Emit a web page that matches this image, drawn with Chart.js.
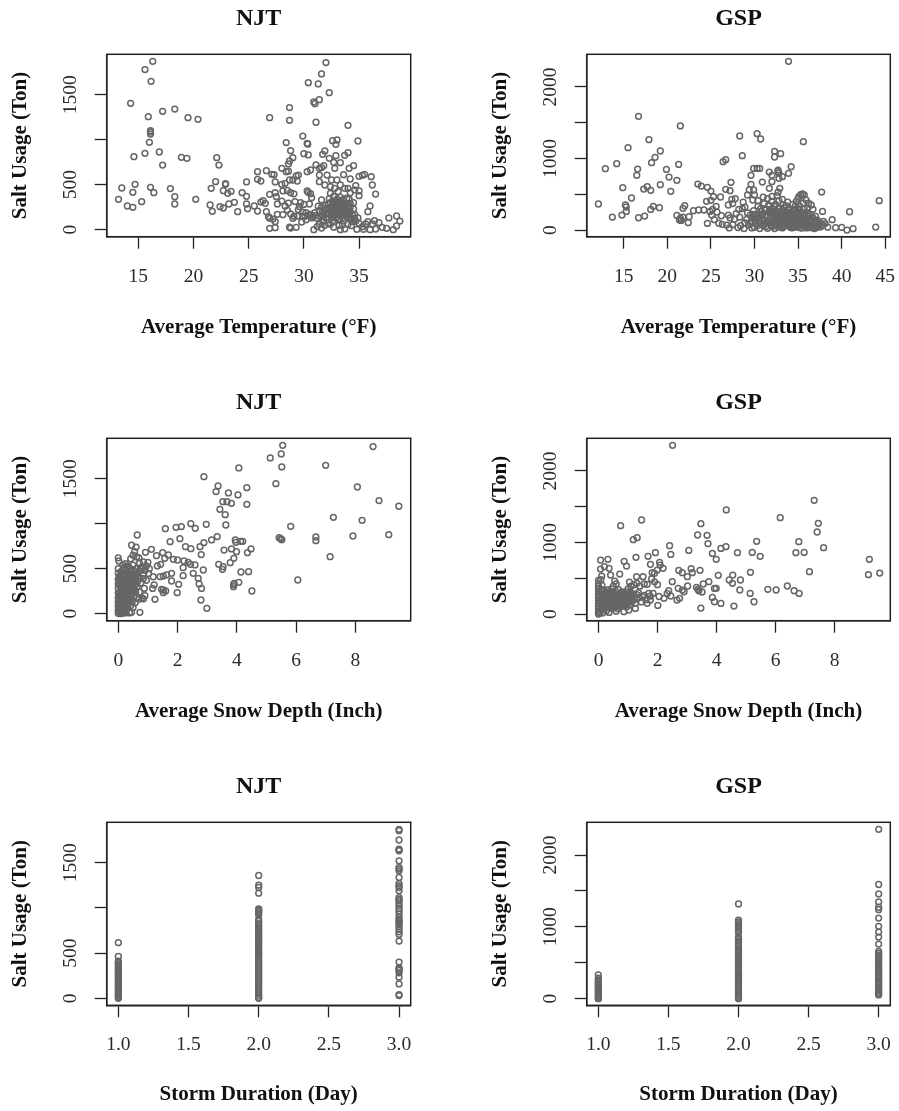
<!DOCTYPE html>
<html><head><meta charset="utf-8">
<style>html,body{margin:0;padding:0;background:#fff;width:899px;height:1111px;overflow:hidden}canvas{position:absolute}</style>
<script src="https://cdn.jsdelivr.net/npm/chart.js@4"></script>
</head><body>
<script>
const njtTempPoints=[[16.3,1870],[15.6,1778],[16.15,1648],[14.3,1404],[17.2,1315],[18.3,1340],[15.9,1255],[19.5,1244],[20.4,1226],[16.1,1100],[16.1,1085],[16.1,1063],[16,970],[15.6,848],[14.6,811],[16.9,863],[17.2,718],[18.9,804],[19.4,793],[22.1,800],[22.3,718],[13.2,337],[13.5,463],[14,263],[14.5,248],[14.5,415],[14.7,504],[15.3,311],[16.1,470],[16.4,411],[17.9,456],[18.3,367],[18.3,285],[20.2,337],[21.5,274],[21.7,204],[21.6,459],[22,533],[22.4,255],[22.7,241],[22.9,511],[22.9,504],[22.7,433],[23.1,404],[23.4,426],[23.2,285],[23.7,304],[24,200],[24.4,411],[24.8,370],[24.8,530],[24.8,285],[24.9,233],[25.5,263],[25.8,644],[25.8,559],[26.1,540],[25.8,207],[26.1,307],[26.3,322],[26.5,293],[26.6,655],[26.9,1244],[26.6,200],[26.8,144],[26.9,126],[26.9,15],[27.4,22],[27.4,89],[27.2,118],[27.1,615],[27.3,611],[27.4,530],[26.9,393],[27.4,411],[27.5,367],[27.6,170],[27.6,285],[28,681],[28.4,644],[28.6,650],[28.4,967],[28.7,1356],[28.7,1215],[28.8,878],[29,800],[28.7,763],[28.6,730],[29.3,596],[29.5,607],[29,552],[28.7,552],[28.3,515],[28,504],[29.4,540],[29.9,1040],[30.3,959],[30.35,950],[30,844],[30.4,830],[30.4,1633],[31.3,1619],[31.6,1730],[32,1856],[32.3,1522],[31.4,1444],[30.9,1419],[31,1400],[31.1,1193],[34,1159],[34.9,985],[32.6,989],[33,996],[32.9,948],[31.9,874],[31.7,837],[32.3,793],[32.9,822],[32.7,748],[32.8,681],[33.3,744],[33.7,826],[34,855],[34.1,681],[34.5,711],[33.6,611],[34.2,563],[35,593],[35.3,604],[35.5,615],[36.1,589],[36.2,496],[36.5,396],[36,263],[35.8,200],[34.7,489],[34.6,441],[35,430],[35,378],[34.2,410],[33.7,459],[31.1,719],[30.3,644],[30.6,663],[31.4,681],[31.8,711],[31.6,690],[31.4,607],[32.1,607],[31.4,533],[31.9,496],[32.5,552],[33,552],[33.3,496],[32.4,478],[32.8,459],[34,459],[33.1,422],[32.4,404],[32.7,370],[38.4,152],[37.7,130],[38.7,96],[38.4,41],[38.1,0],[37.5,15],[37.1,26],[36.5,7],[36.4,100],[36.8,78],[36,0],[35.8,89],[35.4,4],[34.8,4],[36.2,63],[35.3,33],[35.6,63],[28.1,430],[28.5,435],[28.8,410],[29.1,398],[29.2,312],[28.6,296],[28,318],[28.3,262],[28.5,218],[28.1,167],[28.8,174],[29,126],[29.1,150],[28.7,28],[28.8,18],[29.3,26],[29.5,222],[29.7,300],[30,280],[29.9,195],[30.1,148],[30.2,110],[29.8,84],[30.3,430],[30.4,415],[30.6,400],[30.7,356],[30.5,285],[30.4,160],[30.8,145],[30.9,0],[31.2,35],[31.4,62],[31.2,128],[31.3,260],[31.6,330],[31.7,160],[31.8,110],[31.9,48],[31.6,18],[32.1,230],[32.2,175],[32.2,72],[32.4,300],[32.5,255],[32.5,135],[32.6,90],[32.7,28],[32.8,210],[32.9,318],[33,265],[33,170],[33.1,110],[33.2,48],[33.3,0],[33.3,360],[33.4,235],[33.5,170],[33.6,95],[33.7,8],[33.7,296],[33.8,222],[33.9,150],[34,60],[34.1,270],[34.2,196],[34.3,122],[34.3,45],[34.5,300],[34.5,230],[34.6,170],[34.7,95],[34.9,130],[35,70],[31.9,270],[32.3,345],[33.6,340],[33.9,350],[34.1,340],[29.6,255],[31,155],[30.7,130],[32.6,180],[33.4,285],[33.1,210],[32.9,130],[33.8,180],[34.2,245],[34.6,125]];
const njtTempDense=[[32.2,285],[32.3,240],[32.4,205],[32.5,160],[32.6,320],[32.6,280],[32.7,240],[32.7,150],[32.8,300],[32.8,255],[32.8,170],[32.9,235],[32.9,195],[33,340],[33,300],[33,225],[33,140],[33.1,280],[33.1,240],[33.1,170],[33.2,310],[33.2,260],[33.2,195],[33.2,120],[33.3,230],[33.3,170],[33.4,320],[33.4,250],[33.4,190],[33.5,290],[33.5,215],[33.6,255],[33.6,195],[33.6,135],[33.7,235],[33.7,160],[33.8,275],[33.9,205],[34,255],[34,175],[34.1,130],[34.2,290],[34.4,160],[34.4,90],[31.4,210],[31.5,140],[31.6,250],[31.7,200],[31.8,160],[31.9,215],[32,130],[32,180],[31,190],[30.6,170],[30.2,190],[29.9,150],[29.4,150],[31.7,90],[32.4,60],[33.5,55]];
const gspTempPoints=[[33.9,2359],[16.7,1590],[21.5,1455],[28.3,1315],[30.3,1347],[30.7,1273],[35.6,1235],[17.9,1263],[15.5,1152],[19.2,1105],[18.6,1016],[18.2,942],[14.2,928],[12.9,858],[16.6,853],[16.5,765],[19.9,848],[20.2,741],[21.3,918],[21.1,695],[19.2,634],[20.4,541],[17.7,606],[17.3,573],[18.1,555],[14.9,592],[15.9,448],[12.1,364],[15.2,350],[15.3,322],[15.3,261],[14.8,210],[13.7,182],[16.7,172],[17.4,196],[18.1,289],[18.4,331],[19.1,312],[21.1,205],[21.8,303],[22,340],[21.5,165],[21.6,135],[21.4,142],[21.8,180],[22.5,186],[22.4,103],[23,270],[23.6,280],[24.2,280],[23.5,643],[23.9,615],[24.6,597],[25,545],[24.5,401],[25,415],[25.3,466],[26.1,462],[24.6,93],[26.4,956],[26.7,984],[28.6,1040],[26.7,569],[27.2,550],[27.3,667],[29.9,862],[30.3,862],[30.6,862],[29.6,765],[30.9,671],[29.6,639],[29.4,560],[29.9,560],[29.2,490],[30,490],[32.3,1100],[33,1068],[32.3,1021],[31.7,811],[32,765],[32.7,839],[32.8,795],[32.7,815],[33.9,793],[34.2,886],[32.8,723],[33.2,746],[32,676],[31.7,583],[32.9,583],[32.7,530],[37.7,531],[37.8,261],[38.9,145],[40.9,256],[44.3,410],[43.9,42],[41.3,19],[40.6,0],[40,37],[39.3,33],[38.4,40],[37.9,120],[38.1,90],[37.4,75],[37,190],[35.3,495],[35.5,505],[35.7,490],[35.1,470],[35,440],[34.8,400],[35.9,420],[36.2,375],[36.5,350],[36.1,310],[36.7,290],[35.6,380],[35.2,330],[34.4,360],[33.8,390],[33.2,430],[32.6,480],[32,470],[31.5,440],[31,460],[30.4,410],[29.8,420],[28.7,390],[27.4,430],[27.8,440],[27.5,370],[27,350],[25.6,330],[25.2,290],[24.9,260],[25.7,250],[26.2,200],[25.1,210],[25.4,145],[25.9,95],[26.3,80],[26.8,70],[27.1,30],[27.5,75],[27.7,150],[27.2,170],[27,210],[27.9,230],[28.2,290],[28.6,300],[28.9,320],[28.1,35],[28.4,60],[28.8,20],[28.9,100],[29.1,150],[29.3,70],[29.5,210],[29.7,30],[29.9,270],[30.1,130],[30.2,90],[30.4,330],[30.5,200],[30.6,20],[30.8,260],[30.9,150],[31,60],[31.1,370],[31.2,300],[31.3,210],[31.4,110],[31.5,25],[31.6,340],[31.7,260],[31.8,170],[31.9,70],[32,400],[32.1,300],[32.2,220],[32.3,130],[32.3,20],[32.4,360],[32.5,260],[32.6,180],[32.7,80],[32.8,410],[32.9,310],[33,230],[33.1,140],[33.2,30],[33.3,280],[33.4,200],[33.5,110],[33.6,340],[33.7,250],[33.8,160],[33.9,60],[34,300],[34.1,220],[34.2,130],[34.3,30],[34.4,270],[34.5,180],[34.6,80],[34.7,340],[34.8,240],[34.9,140],[35,40],[35.1,280],[35.2,190],[35.3,100],[35.4,240],[35.5,150],[35.6,60],[35.7,300],[35.8,200],[35.9,110],[36,30],[36.1,240],[36.2,160],[36.3,70],[36.4,220],[36.5,130],[36.6,30],[36.7,170],[36.8,90],[36.9,20],[37,120],[37.1,60],[37.2,140],[37.3,40],[37.5,100],[37.6,45],[37.8,70],[29.2,240],[30,40],[31,230],[31.8,290],[32.5,90],[33.4,60],[34.6,210],[35.3,30],[33,110],[32.1,160],[31.4,180],[30.7,100],[29.6,120],[28.3,180],[33.7,100],[34.3,170],[35.9,60]];
const gspTempDense=[[29.5,90],[29.8,175],[30.1,220],[30.3,60],[30.5,130],[30.7,300],[30.9,210],[31.1,120],[31.3,50],[31.3,280],[31.5,190],[31.6,100],[31.7,340],[31.8,230],[32,150],[32,50],[32.1,250],[32.2,100],[32.3,330],[32.4,190],[32.4,60],[32.5,140],[32.6,240],[32.7,300],[32.8,130],[32.8,40],[32.9,210],[33,160],[33,80],[33.1,270],[33.2,190],[33.3,110],[33.3,50],[33.4,310],[33.5,230],[33.5,160],[33.6,70],[33.7,200],[33.8,110],[33.9,280],[34,180],[34,90],[34.1,40],[34.2,250],[34.3,100],[34.4,200],[34.5,130],[34.5,50],[34.6,280],[34.7,170],[34.8,90],[34.9,210],[35,110],[35,300],[35.1,60],[35.2,140],[35.3,220],[35.4,80],[35.5,30],[35.5,180],[35.6,110],[35.7,240],[35.8,70],[35.9,160],[36,210],[36.1,90],[36.2,40],[36.3,130],[36.5,70],[36.6,180],[36.8,130],[37,40],[31.9,120],[32.6,100],[33.1,90],[33.6,130],[34.4,60],[30.2,170],[29.9,220],[32.9,50],[31.2,90],[34.8,40]];
const njtSnowPoints=[[5.55,1870],[5.5,1774],[5.13,1730],[5.52,1630],[4.07,1619],[7,1648],[8.6,1856],[5.32,1444],[2.89,1522],[3.37,1419],[3.3,1356],[3.72,1341],[4.34,1400],[4.04,1319],[8.07,1407],[8.8,1256],[9.47,1193],[4.34,1215],[3.53,1244],[3.67,1244],[3.82,1226],[3.43,1159],[3.61,1100],[7.26,1070],[8.23,1037],[3.63,985],[2.97,993],[2.45,1000],[2.6,948],[2.13,967],[1.95,959],[1.59,944],[5.82,970],[0.64,874],[2.08,833],[1.75,800],[7.92,863],[9.13,878],[6.67,852],[6.67,811],[5.43,844],[5.48,833],[5.52,822],[3.34,856],[3.15,819],[2.89,789],[2.76,744],[3.95,819],[3.97,793],[4.13,804],[4.2,804],[4.48,719],[4.36,678],[3.99,689],[3.82,719],[3.57,707],[3.9,615],[3.78,567],[3.39,548],[3.54,522],[3.52,493],[4.14,463],[4.4,467],[7.15,633],[6.06,374],[4.51,252],[4.07,348],[3.91,337],[3.89,300],[3.9,322],[2.8,656],[2.45,722],[2.27,744],[2.87,485],[2.53,448],[2.7,393],[2.73,330],[2.81,281],[2.79,152],[2.99,59],[1.99,233],[2.04,326],[1.8,363],[1.8,448],[2.19,422],[2.19,511],[2.22,585],[2.36,570],[2.44,548],[2.59,541],[2,596],[1.86,604],[1.69,652],[1.57,615],[1.5,678],[1.29,644],[1.12,715],[0.92,681],[1.43,548],[1.32,530],[1.24,159],[1.16,281],[1.21,319],[1.63,430],[1.52,418],[1.41,411],[1.52,263],[1.46,270],[1.6,252],[1.52,233],[1.18,410],[1.02,445],[0.73,15],[0.45,760],[0.6,740],[0.55,690],[0.5,650],[0.62,630],[0.42,610],[0,620],[0.02,585],[0,500],[0.15,540],[0.25,555],[0.35,520],[0.7,620],[0.85,575],[1,570],[0.95,530],[0.8,520],[0.72,560],[0.9,480],[1.05,500],[0.85,440],[0.7,470],[0.6,500],[0.5,540],[0.45,470],[0.4,500],[0.3,470],[0.2,490],[0.1,470],[0,450],[0.05,420],[0.12,430],[0.22,440],[0.32,430],[0.42,420],[0.52,430],[0.62,430],[0.72,400],[0.85,390],[0.95,370],[0,380],[0.07,370],[0.16,390],[0.26,380],[0.36,390],[0.46,370],[0.56,370],[0.66,360],[0.76,340],[0.88,280],[0.9,200],[0.8,175],[0.72,240],[0.85,165],[0.7,160],[0,330],[0.05,310],[0.14,340],[0.24,320],[0.34,340],[0.44,320],[0.54,310],[0.64,300],[0,280],[0.1,270],[0.19,290],[0.29,275],[0.39,270],[0.49,260],[0.59,240],[0,230],[0.04,215],[0.13,225],[0.23,230],[0.33,215],[0.43,210],[0.53,190],[0.63,180],[0,175],[0.08,160],[0.17,180],[0.27,170],[0.37,160],[0.47,130],[0.57,120],[0,130],[0.03,110],[0.12,120],[0.22,115],[0.32,100],[0.42,90],[0.5,70],[0,80],[0.07,60],[0.15,65],[0.25,55],[0,40],[0.04,25],[0.1,30],[0.18,35],[0,5],[0.06,0],[0.13,3],[0.25,10],[0.38,8],[0.45,15]];
const njtSnowDense=[[0.03,400],[0.09,395],[0.15,360],[0.2,410],[0.27,350],[0.31,405],[0.38,355],[0.42,300],[0.48,400],[0.52,345],[0.57,410],[0.6,330],[0.68,395],[0.03,350],[0.08,300],[0.11,250],[0.16,300],[0.2,255],[0.26,295],[0.3,240],[0.35,300],[0.4,240],[0.46,290],[0.5,225],[0.55,270],[0.02,195],[0.07,195],[0.1,145],[0.15,200],[0.19,145],[0.24,195],[0.3,140],[0.36,190],[0.42,150],[0.03,150],[0.08,90],[0.13,85],[0.18,95],[0.24,85],[0.3,65],[0.02,60],[0.11,45],[0.17,15],[0.22,30],[0.65,450],[0.75,500],[0.85,515],[0.55,470],[0.3,530],[0.18,510]];
const gspSnowPoints=[[2.51,2359],[7.31,1590],[4.33,1455],[1.46,1315],[6.16,1347],[0.75,1235],[3.47,1263],[7.45,1268],[7.41,1147],[1.31,1068],[1.18,1040],[3.36,1105],[3.68,1100],[3.71,984],[2.41,956],[2.45,834],[3.06,890],[3.86,848],[3.99,765],[4.15,918],[4.32,942],[4.71,858],[5.21,862],[5.36,1016],[5.48,807],[6.79,1012],[6.69,858],[6.97,862],[7.63,928],[7.15,592],[9.18,765],[9.15,550],[9.53,573],[0.07,755],[0.32,765],[0.87,737],[0.95,671],[1.27,793],[1.68,807],[1.93,858],[1.76,695],[2.07,723],[2.09,685],[2.19,639],[1.99,615],[1.82,578],[1.9,569],[0.72,559],[0.41,545],[0.36,639],[0.2,662],[0.07,629],[0.11,531],[1.29,522],[1.51,522],[2.72,611],[2.84,578],[3.14,634],[3.18,578],[3.44,611],[3.01,522],[2.5,452],[4.06,541],[4.55,545],[5.15,583],[4.43,476],[4.81,476],[4.54,429],[3.74,452],[3.55,420],[3.02,392],[3.99,359],[3.93,358],[4.79,336],[5.14,289],[5.27,172],[4.59,112],[4.15,149],[3.93,172],[3.86,233],[3.47,84],[3.32,373],[3.37,345],[3.51,308],[3.4,325],[5.74,345],[6.02,336],[6.4,392],[6.63,326],[6.8,289],[2.7,360],[2.84,335],[2.9,312],[2.66,196],[2.75,220],[2.38,326],[2.33,289],[2.45,252],[2.22,220],[2.05,245],[2.01,121],[1.76,196],[1.65,150],[1.25,79],[1.03,56],[0.86,33],[0.36,23],[1.05,445],[1.2,410],[1.3,430],[1.4,390],[1.55,420],[1.65,415],[1.8,490],[1.9,450],[2.0,410],[1.85,290],[1.75,250],[1.55,260],[1.35,300],[1.2,270],[1.1,390],[1.0,350],[0.95,310],[0.9,270],[0.85,230],[0.8,190],[0.75,150],[0.7,110],[0.65,75],[0.6,40],[1.05,220],[1.15,180],[1.3,210],[1.45,170],[1.6,200],[1.05,130],[0.95,100],[0.55,460],[0.6,420],[0.5,390],[0.45,350],[0.4,310],[0.35,270],[0.3,230],[0.25,190],[0.2,150],[0.15,110],[0.1,70],[0.05,30],[0,470],[0,430],[0,390],[0,350],[0,310],[0,270],[0,230],[0,190],[0,150],[0,110],[0,70],[0,30],[0,0],[0.08,480],[0.12,400],[0.07,340],[0.1,280],[0.14,220],[0.06,160],[0.09,90],[0.04,10],[0.2,330],[0.25,280],[0.28,210],[0.22,120],[0.18,60],[0.14,15],[0.33,340],[0.38,230],[0.42,180],[0.33,90],[0.28,50],[0.48,300],[0.52,240],[0.55,190],[0.5,130],[0.42,80],[0.58,320],[0.62,270],[0.66,220],[0.6,160],[0.55,90],[0.68,340],[0.72,290],[0.76,240],[0.7,180],[0.8,310],[0.85,300],[0.9,210],[0.78,120],[0.92,160],[1.0,270],[1.0,190],[0.96,140],[1.1,300],[1.12,240],[0.18,240],[0.32,150],[0.45,250],[0.65,130],[0.82,250],[0.3,300],[0.12,340]];
const gspSnowDense=[[0.04,250],[0.09,205],[0.13,150],[0.17,280],[0.21,200],[0.24,100],[0.27,250],[0.3,170],[0.34,120],[0.37,290],[0.4,200],[0.43,130],[0.46,270],[0.5,210],[0.53,160],[0.56,280],[0.59,200],[0.62,130],[0.65,250],[0.68,180],[0.72,130],[0.74,270],[0.78,200],[0.81,160],[0.84,270],[0.87,190],[0.9,130],[0.94,240],[0.98,220],[1.02,280],[1.06,170],[1.09,250],[1.14,280],[0.16,190],[0.2,95],[0.26,140],[0.31,210],[0.36,170],[0.41,100],[0.47,160],[0.52,110],[0.58,160],[0.63,205],[0.69,230],[0.75,190],[0.79,230],[0.86,150],[0.92,190],[1.2,210],[1.25,150],[1.3,270],[1.38,230],[1.5,240],[1.7,290]];
const njtDay1=[615,463,411,395,378,360,342,325,310,292,276,260,245,228,212,196,180,165,148,132,116,100,84,68,52,36,22,8,0];
const njtDay2=[1359,1252,1226,1163,989,975,960,944,925,874,850,826,803,780,757,734,712,690,668,646,624,602,580,558,536,514,492,470,448,426,404,382,360,338,316,294,272,250,228,206,184,162,140,118,96,74,52,30,8,0];
const njtDay3=[1870,1855,1752,1652,1640,1633,1522,1448,1430,1411,1337,1270,1244,1225,1189,1115,1095,1078,1050,1022,995,967,930,893,870,855,835,819,790,763,735,707,633,400,337,322,307,281,233,159,41,30];
const gspDay1=[331,284,262,240,222,200,182,160,142,120,100,82,60,42,20,5,0];
const gspDay2=[1319,1095,1070,1045,1020,995,970,945,920,855,830,805,780,755,730,705,680,655,630,605,580,555,530,505,480,455,430,405,380,355,330,305,280,255,230,205,180,155,130,105,80,55,30,8,0];
const gspDay3=[2359,1590,1459,1347,1273,1240,1123,1007,928,858,760,657,630,605,580,555,530,500,470,440,410,385,360,335,310,285,260,235,210,185,160,135,110,85,60,51];
const dayValues=[1,2,3];
const flatten=(lists)=>lists.flatMap((l,i)=>l.map(v=>[dayValues[i],v]));
const panelData=[njtTempPoints.concat(njtTempDense),gspTempPoints.concat(gspTempDense),njtSnowPoints.concat(njtSnowDense),gspSnowPoints.concat(gspSnowDense),flatten([njtDay1,njtDay2,njtDay3]),flatten([gspDay1,gspDay2,gspDay3])];
const panelTitles=["NJT","GSP","NJT","GSP","NJT","GSP"];
const xTitles=["Average Temperature (°F)","Average Temperature (°F)","Average Snow Depth (Inch)","Average Snow Depth (Inch)","Storm Duration (Day)","Storm Duration (Day)"];
const yTitle="Salt Usage (Ton)";
const tempTicksNjt=[15,20,25,30,35];
const tempTicksGsp=[15,20,25,30,35,40,45];
const snowTicks=[0,2,4,6,8];
const dayTicks=[1,1.5,2,2.5,3];
const xTickSets=[tempTicksNjt,tempTicksGsp,snowTicks,snowTicks,dayTicks,dayTicks];
const xRanges=[[12.13,39.68],[10.76,45.57],[-0.39,9.87],[-0.40,9.89],[0.917,3.083],[0.917,3.083]];
const yTicksNjt=[0,500,1000,1500];
const yLabelsNjt=[0,500,1500];
const yTicksGsp=[0,500,1000,1500,2000];
const yLabelsGsp=[0,1000,2000];
const yRangeNjt=[-78,1948];
const yRangeGsp=[-93,2457];

const serif="'Liberation Serif','Times New Roman',serif";
const ink="#222222", markColor="#666666";
const boxPlugin={id:"box",afterDraw(c){const a=c.chartArea,x=c.ctx;x.save();x.strokeStyle=ink;x.lineWidth=1.5;x.strokeRect(a.left,a.top,a.right-a.left,a.bottom-a.top);x.restore();}};
const tops=[0,384,768];
const plotBottoms=[236.7,236.7,237.3];
const canvasHeights=[339.6,339.3,338.9];
panelData.forEach((pts,i)=>{
  const col=i%2,row=Math.floor(i/2),isGsp=col===1;
  const cv=document.createElement("canvas");
  const w=col?460:450,h=Math.ceil(canvasHeights[row]);
  cv.width=w;cv.height=h;cv.style.left=(col?480:0)+"px";cv.style.top=tops[row]+"px";
  cv.style.width=w+"px";cv.style.height=h+"px";
  document.body.appendChild(cv);
  const xt=xTickSets[i],yt=isGsp?yTicksGsp:yTicksNjt,yl=isGsp?yLabelsGsp:yLabelsNjt,yr=isGsp?yRangeGsp:yRangeNjt;
  const isDay=i>=4;
  new Chart(cv,{type:"scatter",
    data:{datasets:[{data:pts.map(p=>({x:p[0],y:p[1]})),showLine:false,pointStyle:"circle",pointRadius:2.9,pointBorderWidth:1.5,pointBorderColor:markColor,pointBackgroundColor:"rgba(0,0,0,0)",clip:false}]},
    plugins:[boxPlugin],
    options:{responsive:false,animation:false,devicePixelRatio:1,
      layout:{autoPadding:false,padding:{left:0,top:0,bottom:0,right:col?49.7:39.3}},
      plugins:{legend:{display:false},tooltip:{enabled:false},
        title:{display:true,text:panelTitles[i],fullSize:false,color:"#111",font:{family:serif,size:24,weight:"bold",lineHeight:1.2},padding:{top:4.6,bottom:20.9}}},
      scales:{
        x:{type:"linear",min:xRanges[i][0],max:xRanges[i][1],
          afterBuildTicks:s=>{s.ticks=xt.map(v=>({value:v}));},
          afterFit:s=>{s.height=h-plotBottoms[row];},
          grid:{drawOnChartArea:false,drawTicks:true,tickLength:12,tickWidth:1.3,tickColor:ink},
          border:{display:true,color:ink,width:1.5},
          ticks:{autoSkip:false,maxRotation:0,minRotation:0,padding:16,color:"#2a2a2a",font:{family:serif,size:19.5,lineHeight:1.2},
            callback:v=>isDay?Number(v).toFixed(1):String(v)},
          title:{display:true,text:xTitles[i],color:"#111",font:{family:serif,size:21,weight:"bold",lineHeight:1.2},padding:{top:0,bottom:0}}},
        y:{type:"linear",min:yr[0],max:yr[1],
          afterBuildTicks:s=>{s.ticks=yt.map(v=>({value:v}));},
          afterFit:s=>{s.width=106.7;},
          grid:{drawOnChartArea:false,drawTicks:true,tickLength:12,tickWidth:1.3,tickColor:ink},
          border:{display:true,color:ink,width:1.5},
          ticks:{autoSkip:false,minRotation:90,maxRotation:90,crossAlign:"center",padding:4,color:"#2a2a2a",font:{family:serif,size:19.5,lineHeight:1.2},
            callback:v=>yl.includes(v)?String(v):""},
          title:{display:true,text:yTitle,color:"#111",font:{family:serif,size:21,weight:"bold",lineHeight:1.2},padding:{top:8.1,bottom:0}}}
      }}});
});
</script>
</body></html>
